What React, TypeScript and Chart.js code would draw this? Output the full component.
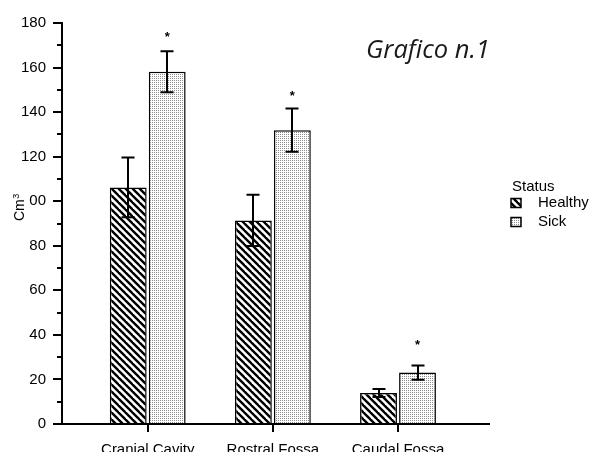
import React, { useEffect, useRef } from 'react';
import { Chart, registerables } from 'chart.js';

Chart.register(...registerables);

const categories = ['Cranial Cavity', 'Rostral Fossa', 'Caudal Fossa'];
const seriesNames = ['Healthy', 'Sick'];
const healthyMeans = [106.2, 91.4, 13.9];
const healthyErrors = [13.4, 11.5, 1.8];
const sickMeans = [158.1, 131.9, 23.1];
const sickErrors = [9.2, 9.7, 3.2];
const sickMarks = ['*', '*', '*'];
const sickMarkLevels = [175.4, 149, 36.9];
const yTicks = [0, 20, 40, 60, 80, 100, 120, 140, 160, 180];
const yMinorTicks = [10, 30, 50, 70, 90, 110, 130, 150, 170];
const legendTitle = 'Status';
const chartTitle = 'Grafico n.1';
const yAxisTitle = 'Cm';
const yAxisTitleSup = '3';

const FONT = "'Liberation Sans', Arial, sans-serif";

function makeHatch(): CanvasPattern | string {
  const s = 7;
  const c = document.createElement('canvas');
  c.width = s;
  c.height = s;
  const g = c.getContext('2d')!;
  g.fillStyle = '#fff';
  g.fillRect(0, 0, s, s);
  g.strokeStyle = '#000';
  g.lineWidth = 2.4;
  for (const o of [-s, 0, s]) {
    g.beginPath();
    g.moveTo(o - 1, -1);
    g.lineTo(o + s + 1, s + 1);
    g.stroke();
  }
  const p = g.createPattern(c, 'repeat');
  return p || '#888';
}

function makeDots(): CanvasPattern | string {
  const c = document.createElement('canvas');
  c.width = 2;
  c.height = 2;
  const g = c.getContext('2d')!;
  g.fillStyle = '#fff';
  g.fillRect(0, 0, 2, 2);
  g.fillStyle = '#8c8c8c';
  g.fillRect(0, 0, 1, 1);
  const p = g.createPattern(c, 'repeat');
  return p || '#ddd';
}

export default function App() {
  const ref = useRef<HTMLCanvasElement | null>(null);

  useEffect(() => {
    const canvas = ref.current;
    if (!canvas) return;
    const hatch = makeHatch();
    const dots = makeDots();
    const errs = [healthyErrors, sickErrors];
    const means = [healthyMeans, sickMeans];
    const fills = [hatch, dots];

    const overlay = {
      id: 'overlay',
      afterDatasetsDraw(chart: any) {
        const ctx = chart.ctx as CanvasRenderingContext2D;
        const xs = chart.scales.x;
        const ys = chart.scales.y;
        const area = chart.chartArea;
        const x0 = Math.round(area.left);
        const yb = Math.round(ys.getPixelForValue(0));
        ctx.save();
        ctx.strokeStyle = '#000';
        ctx.lineWidth = 2;
        ctx.lineCap = 'butt';
        // y axis
        ctx.beginPath();
        ctx.moveTo(x0, area.top - 1);
        ctx.lineTo(x0, yb + 1);
        ctx.stroke();
        for (const t of yTicks) {
          const y = Math.round(ys.getPixelForValue(t));
          ctx.beginPath();
          ctx.moveTo(x0 - 9, y);
          ctx.lineTo(x0, y);
          ctx.stroke();
        }
        for (const t of yMinorTicks) {
          const y = Math.round(ys.getPixelForValue(t));
          ctx.beginPath();
          ctx.moveTo(x0 - 5, y);
          ctx.lineTo(x0, y);
          ctx.stroke();
        }
        // x axis
        ctx.beginPath();
        ctx.moveTo(x0 - 9, yb);
        ctx.lineTo(Math.round(area.right), yb);
        ctx.stroke();
        categories.forEach((_, i) => {
          const x = Math.round(xs.getPixelForValue(i));
          ctx.beginPath();
          ctx.moveTo(x, yb);
          ctx.lineTo(x, yb + 8);
          ctx.stroke();
        });
        // error bars
        [0, 1].forEach((d) => {
          const meta = chart.getDatasetMeta(d);
          meta.data.forEach((bar: any, i: number) => {
            const cx = Math.round(bar.x);
            const top = ys.getPixelForValue(means[d][i] + errs[d][i]);
            const bot = ys.getPixelForValue(means[d][i] - errs[d][i]);
            ctx.beginPath();
            ctx.moveTo(cx, top);
            ctx.lineTo(cx, bot);
            ctx.moveTo(cx - 6.5, top);
            ctx.lineTo(cx + 6.5, top);
            ctx.moveTo(cx - 6.5, bot);
            ctx.lineTo(cx + 6.5, bot);
            ctx.stroke();
          });
        });
        // significance marks
        const sm = chart.getDatasetMeta(1);
        ctx.fillStyle = '#000';
        ctx.font = `bold 13px ${FONT}`;
        ctx.textAlign = 'center';
        ctx.textBaseline = 'alphabetic';
        sm.data.forEach((bar: any, i: number) => {
          const y = ys.getPixelForValue(sickMarkLevels[i]);
          ctx.fillText(sickMarks[i], bar.x, y + 7.5);
        });
        ctx.restore();
      },
      afterDraw(chart: any) {
        const ctx = chart.ctx as CanvasRenderingContext2D;
        ctx.save();
        // title
        ctx.fillStyle = '#1a1a1a';
        ctx.font = `italic 400 25.5px 'Open Sans', sans-serif`;
        ctx.textAlign = 'left';
        ctx.textBaseline = 'alphabetic';
        ctx.fillText(chartTitle, 366, 58);
        // legend
        ctx.fillStyle = '#000';
        ctx.font = `15px ${FONT}`;
        ctx.textBaseline = 'middle';
        ctx.fillText(legendTitle, 512, 187);
        const rows = [203, 222];
        seriesNames.forEach((n, i) => {
          const cy = rows[i];
          ctx.fillStyle = fills[i] as any;
          ctx.fillRect(511, cy - 4.5, 10, 9);
          ctx.strokeStyle = '#000';
          ctx.lineWidth = 1.5;
          ctx.strokeRect(511, cy - 4.5, 10, 9);
          ctx.fillStyle = '#000';
          ctx.fillText(n, 538, cy);
        });
        // y axis title
        ctx.fillStyle = '#fff';
        ctx.fillRect(9, 189, 20, 26);
        ctx.fillStyle = '#000';
        ctx.translate(23.5, 221);
        ctx.rotate(-Math.PI / 2);
        ctx.textBaseline = 'alphabetic';
        ctx.textAlign = 'left';
        ctx.font = `14px ${FONT}`;
        ctx.fillText(yAxisTitle, 0, 0);
        const w = ctx.measureText(yAxisTitle).width;
        ctx.font = `9px ${FONT}`;
        ctx.fillText(yAxisTitleSup, w + 0.5, -5);
        ctx.restore();
      },
    };

    const chart = new Chart(canvas, {
      type: 'bar',
      data: {
        datasets: [
          {
            label: seriesNames[0],
            data: categories.map((_, i) => ({ x: i, y: healthyMeans[i] })),
            backgroundColor: hatch as any,
            borderColor: '#000',
            borderWidth: 1.5,
          },
          {
            label: seriesNames[1],
            data: categories.map((_, i) => ({ x: i, y: sickMeans[i] })),
            backgroundColor: dots as any,
            borderColor: '#000',
            borderWidth: 1.5,
          },
        ],
      },
      options: {
        responsive: false,
        animation: false,
        devicePixelRatio: 1,
        layout: { padding: { top: 23, right: 100, left: 0, bottom: 0 } },
        categoryPercentage: 0.623,
        barPercentage: 0.945,
        plugins: {
          legend: { display: false },
          tooltip: { enabled: false },
          title: { display: false },
        },
        scales: {
          x: {
            type: 'linear',
            min: -0.685,
            max: 2.735,
            offset: false,
            grid: { display: false },
            border: { display: false },
            afterBuildTicks: (scale: any) => {
              scale.ticks = categories.map((_, i) => ({ value: i }));
            },
            afterFit: (scale: any) => {
              scale.height = 28;
            },
            ticks: {
              autoSkip: false,
              maxRotation: 0,
              padding: 9,
              color: '#000',
              font: { family: FONT, size: 15 },
              callback: (v: any) => categories[v as number] ?? '',
            },
          },
          y: {
            type: 'linear',
            min: 0,
            max: 180,
            grid: { display: false },
            border: { display: false },
            afterBuildTicks: (scale: any) => {
              scale.ticks = yTicks.map((v) => ({ value: v }));
            },
            afterFit: (scale: any) => {
              scale.width = 62;
            },
            ticks: {
              padding: 8,
              color: '#000',
              font: { family: FONT, size: 15 },
              callback: (v: any) => String(v),
            },
          },
        },
      } as any,
      plugins: [overlay],
    });

    return () => chart.destroy();
  }, []);

  return (
    <div style={{ position: 'fixed', left: 0, top: 0, width: 590, height: 452, background: '#fff' }}>
      <canvas ref={ref} width={590} height={452} style={{ display: 'block' }} />
    </div>
  );
}
